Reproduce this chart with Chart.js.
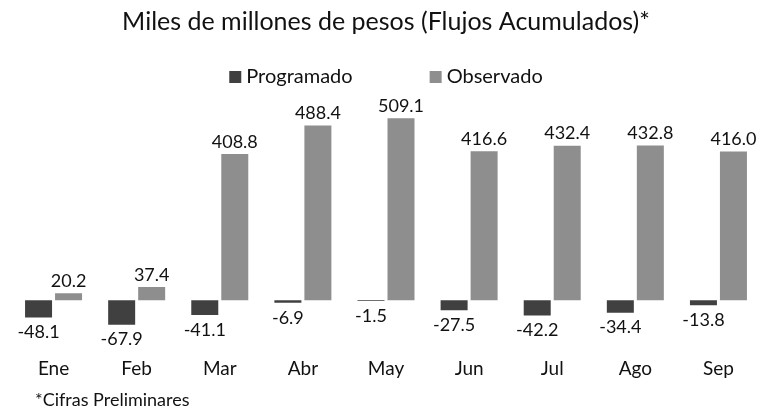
<!DOCTYPE html>
<html>
<head>
<meta charset="utf-8">
<script src="https://cdn.jsdelivr.net/npm/chart.js@4.4.1/dist/chart.umd.min.js"></script>
<style>
  html, body { margin: 0; padding: 0; background: #fff; }
  #wrap { width: 765px; height: 413px; position: relative; }
</style>
</head>
<body>
<div id="wrap"><canvas id="flujosChart" width="765" height="413"></canvas></div>
<script>
// Datos
const categories = ['Ene', 'Feb', 'Mar', 'Abr', 'May', 'Jun', 'Jul', 'Ago', 'Sep'];
const programado = [-48.1, -67.9, -41.1, -6.9, -1.5, -27.5, -42.2, -34.4, -13.8];
const observado = [20.2, 37.4, 408.8, 488.4, 509.1, 416.6, 432.4, 432.8, 416.0];
const seriesNames = ['Programado', 'Observado'];
const titleText = 'Miles de millones de pesos (Flujos Acumulados)*';
const footnoteText = '*Cifras Preliminares';

const FONT = 'Lato';
const colors = ['#404040', '#8e8e8e'];

// titulo, leyenda y nota al pie
const headerFooter = {
    id: 'headerFooter',
    afterDraw(chart) {
        const ctx = chart.ctx;
        const area = chart.chartArea;
        const cx = (area.left + area.right) / 2;
        ctx.save();
        ctx.fillStyle = '#111';
        ctx.textBaseline = 'middle';

        ctx.font = '25px ' + FONT;
        ctx.textAlign = 'center';
        ctx.fillText(titleText, cx, 22);

        // leyenda centrada
        ctx.font = '20px ' + FONT;
        ctx.textAlign = 'left';
        const box = 12, gapText = 5, gapItems = 77;
        const widths = seriesNames.map(n => box + gapText + ctx.measureText(n).width);
        const total = widths[0] + gapItems + widths[1];
        let x = cx - total / 2;
        seriesNames.forEach((name, i) => {
            ctx.fillStyle = colors[i];
            ctx.fillRect(x, 77 - box / 2, box, box);
            ctx.fillStyle = '#111';
            ctx.fillText(name, x + box + gapText, 77);
            x += widths[i] + gapItems;
        });

        ctx.font = '18px ' + FONT;
        ctx.fillText(footnoteText, 35, 400);
        ctx.restore();
    }
};

// etiquetas de datos
const barLabels = {
    id: 'barLabels',
    afterDatasetsDraw(chart) {
        const ctx = chart.ctx;
        ctx.save();
        ctx.font = '18px ' + FONT;
        ctx.fillStyle = '#111';
        ctx.textAlign = 'center';
        ctx.textBaseline = 'middle';
        chart.data.datasets.forEach((ds, i) => {
            chart.getDatasetMeta(i).data.forEach((bar, j) => {
                const v = ds.data[j];
                const y = v >= 0 ? bar.y - 12 : bar.y + 15;
                ctx.fillText(v.toFixed(1), bar.x, y);
            });
        });
        ctx.restore();
    }
};

window.onload = function() {
    const ctx = document.getElementById('flujosChart').getContext('2d');
    new Chart(ctx, {
        type: 'bar',
        data: {
            labels: categories,
            datasets: [
                { label: seriesNames[0], data: programado, backgroundColor: colors[0] },
                { label: seriesNames[1], data: observado, backgroundColor: colors[1] }
            ]
        },
        options: {
            responsive: false,
            animation: false,
            devicePixelRatio: 1,
            categoryPercentage: 0.722,
            barPercentage: 0.9,
            layout: { padding: { top: 100, left: 12, right: 5, bottom: 25 } },
            plugins: {
                legend: { display: false },
                title: { display: false },
                tooltip: { enabled: false }
            },
            scales: {
                x: {
                    grid: { display: false, drawTicks: false },
                    border: { display: false },
                    ticks: { color: '#111', padding: 8, font: { family: FONT, size: 19 } }
                },
                y: {
                    min: -136.5,
                    max: 560,
                    border: { display: false },
                    grid: {
                        drawTicks: false,
                        lineWidth: 2,
                        color: c => (c.tick && c.tick.value === 0) ? '#d9d9d9' : 'rgba(0,0,0,0)'
                    },
                    ticks: { display: false, stepSize: 100 }
                }
            }
        },
        plugins: [headerFooter, barLabels]
    });
};
</script>
</body>
</html>
